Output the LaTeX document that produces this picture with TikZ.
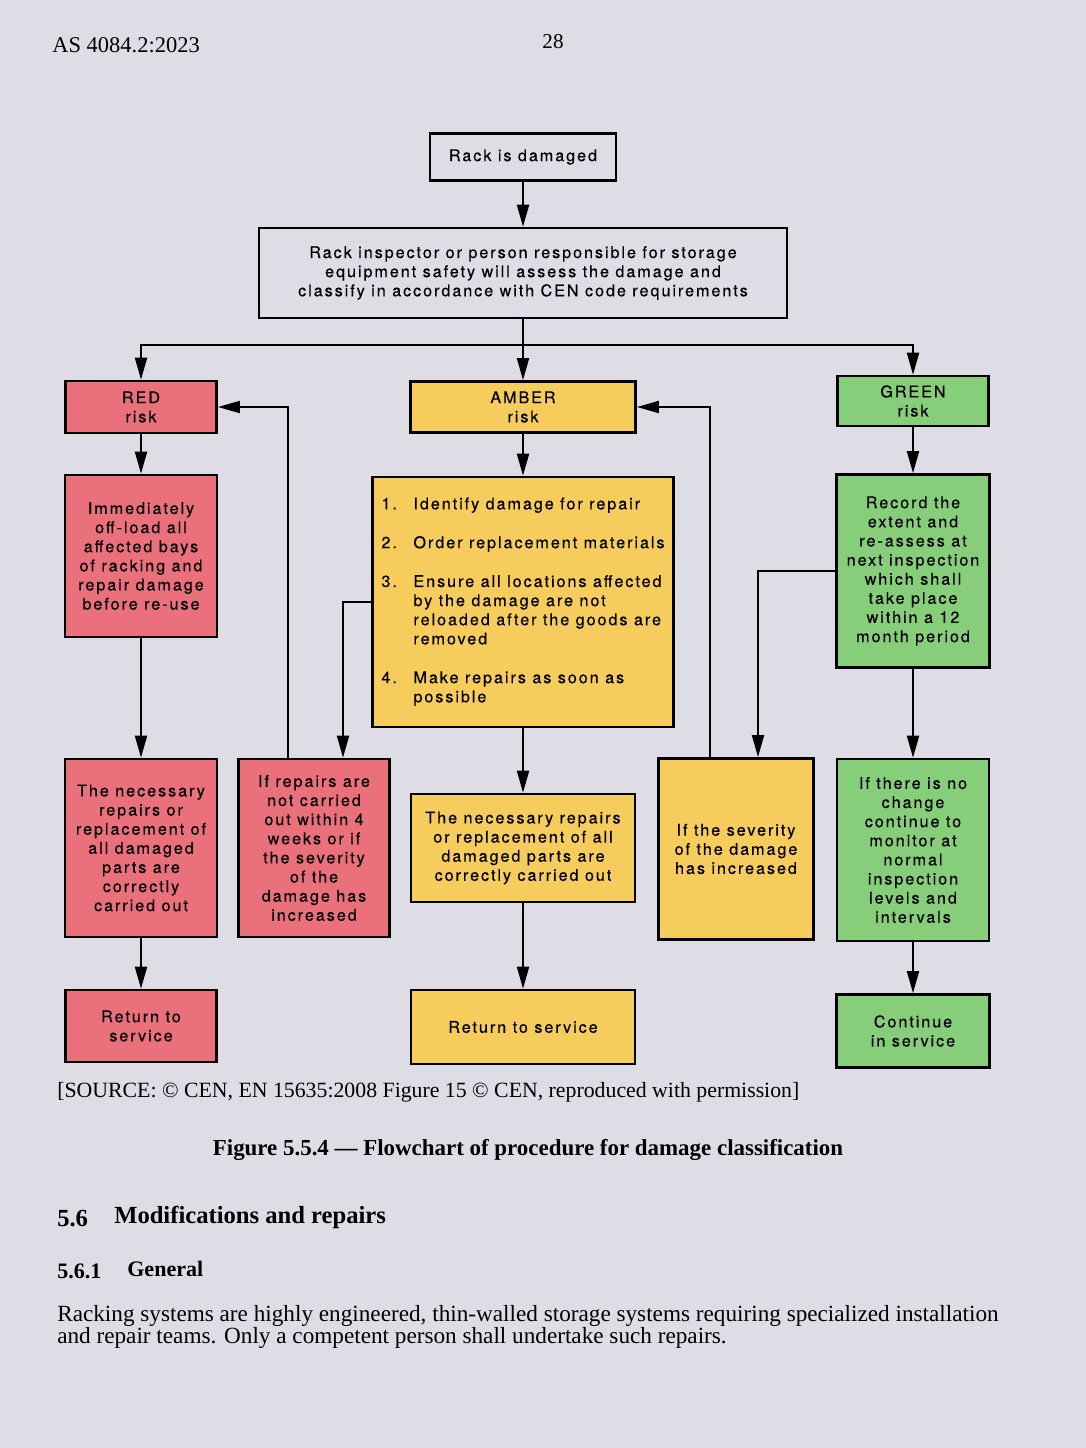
\documentclass[tikz,border=0pt]{standalone}
\usepackage{fontspec}
\setmainfont{Liberation Serif}
\newfontfamily\chartfont[LetterSpace=12,FakeBold=0.3]{TeX Gyre Heros}
\usetikzlibrary{calc,arrows.meta}
\definecolor{pagebg}{RGB}{222,221,229}
\definecolor{riskred}{RGB}{234,112,124}
\definecolor{riskamber}{RGB}{246,204,92}
\definecolor{riskgreen}{RGB}{134,206,122}
\tikzset{
  box/.style={draw, line width=1.8pt, align=center, inner sep=2pt,
    font=\chartfont\fontsize{11.5}{13.6}\selectfont},
  plainbox/.style={box, fill=pagebg},
  redbox/.style={box, fill=riskred},
  amberbox/.style={box, fill=riskamber},
  greenbox/.style={box, fill=riskgreen},
  flow/.style={line width=1.3pt, -{Triangle[length=5.5mm,width=3mm]}},
  link/.style={line width=1.3pt},
  pagetext/.style={font=\fontsize{15}{18}\selectfont, inner sep=0pt},
}

\begin{document}
\begin{tikzpicture}[x=0.025cm,y=-0.025cm]
	\fill[pagebg] (0,0) rectangle (1086,1448);
	\useasboundingbox (0,0) rectangle (1086,1448);
	% page head
	\node[pagetext, anchor=base west, font=\fontsize{16}{18}\selectfont] (std) at (52,52) {AS 4084.2:2023};
	\node[pagetext] (pageno) at (553,42) {28};
	% top of the chart
	\node[plainbox, minimum width=4.65cm, minimum height=1.18cm] (damaged) at (523,157) {Rack is damaged};
	\node[plainbox, minimum width=13.2cm, minimum height=2.25cm] (inspect) at (523,273)
		{Rack inspector or person responsible for storage\\equipment safety will assess the damage and\\classify in accordance with CEN code requirements};
	% risk classes
	\node[redbox, minimum width=3.78cm, minimum height=1.3cm] (red) at (141,407) {RED\\risk};
	\node[amberbox, minimum width=5.63cm, minimum height=1.28cm] (amber) at (523,407) {AMBER\\risk};
	\node[greenbox, minimum width=3.78cm, minimum height=1.25cm] (green) at (913,401) {GREEN\\risk};
	% actions
	\node[redbox, minimum width=3.8cm, minimum height=4.05cm] (offload) at (141,556)
		{Immediately\\off-load all\\affected bays\\of racking and\\repair damage\\before re-use};
	\node[amberbox, minimum width=7.53cm, minimum height=6.25cm] (steps) at (523,602)
		{\begin{tabular}{@{}p{0.8cm}@{}l@{}}
		1. & Identify damage for repair\\[14pt]
		2. & Order replacement materials\\[14pt]
		3. & Ensure all locations affected\\
		   & by the damage are not\\
		   & reloaded after the goods are\\
		   & removed\\[14pt]
		4. & Make repairs as soon as\\
		   & possible
		\end{tabular}};
	\node[greenbox, minimum width=3.83cm, minimum height=4.83cm] (record) at (913,571)
		{Record the\\extent and\\re-assess at\\next inspection\\which shall\\take place\\within a 12\\month period};
	% outcomes
	\node[redbox, minimum width=3.8cm, minimum height=4.45cm] (rednec) at (141,848)
		{The necessary\\repairs or\\replacement of\\all damaged\\parts are\\correctly\\carried out};
	\node[redbox, minimum width=3.78cm, minimum height=4.45cm] (ifrep) at (314,848)
		{If repairs are\\not carried\\out within 4\\weeks or if\\the severity\\of the\\damage has\\increased};
	\node[amberbox, minimum width=5.6cm, minimum height=2.7cm] (ambnec) at (523,848)
		{The necessary repairs\\or replacement of all\\damaged parts are\\correctly carried out};
	\node[amberbox, minimum width=3.88cm, minimum height=4.53cm] (severe) at (736,849)
		{If the severity\\of the damage\\has increased};
	\node[greenbox, minimum width=3.8cm, minimum height=4.55cm] (nochange) at (913,850)
		{If there is no\\change\\continue to\\monitor at\\normal\\inspection\\levels and\\intervals};
	% end states
	\node[redbox, minimum width=3.78cm, minimum height=1.8cm] (redret) at (141,1026) {Return to\\service};
	\node[amberbox, minimum width=5.6cm, minimum height=1.85cm] (ambret) at (523,1027) {Return to service};
	\node[greenbox, minimum width=3.83cm, minimum height=1.83cm] (goon) at (913,1031) {Continue\\in service};
	% connectors
	\coordinate (split) at (523,345);
	\draw[flow] (damaged) -- (inspect);
	\draw[flow] (inspect) -- (amber);
	\draw[flow] (split) -| (red.north);
	\draw[flow] (split) -| (green.north);
	\draw[flow] (red) -- (offload);
	\draw[flow] (offload) -- (rednec);
	\draw[flow] (rednec) -- (redret);
	\draw[flow] (amber) -- (steps);
	\draw[flow] (steps) -- (ambnec);
	\draw[flow] (ambnec) -- (ambret);
	\draw[flow] (green) -- (record);
	\draw[flow] (record) -- (nochange);
	\draw[flow] (nochange) -- (goon);
	\draw[flow] ($(ifrep.north)+(-26,0)$) |- (red.east);
	\draw[flow] (steps.west) -| ($(ifrep.north)+(29,0)$);
	\draw[flow] ($(severe.north)+(-26,0)$) |- (amber.east);
	\draw[flow] (record.west) -| ($(severe.north)+(22,0)$);
	% caption and text below
	\node[pagetext, anchor=west, font=\fontsize{15.5}{18}\selectfont] (source) at (57,1092)
		{[SOURCE: \textcopyright{} CEN, EN 15635:2008 Figure 15 \textcopyright{} CEN, reproduced with permission]};
	\node[pagetext, font=\bfseries\fontsize{16.3}{18}\selectfont] (caption) at (528,1150)
		{Figure 5.5.4 --- Flowchart of procedure for damage classification};
	\node[pagetext, anchor=west, font=\bfseries\fontsize{17.5}{18}\selectfont] (secno) at (57,1219) {5.6};
	\node[pagetext, anchor=west, font=\bfseries\fontsize{17.5}{18}\selectfont] (sectitle) at (114,1217) {Modifications and repairs};
	\node[pagetext, anchor=west, font=\bfseries\fontsize{15.7}{18}\selectfont] (subno) at (57,1271) {5.6.1};
	\node[pagetext, anchor=west, font=\bfseries\fontsize{15.7}{18}\selectfont] (subtitle) at (127,1269) {General};
	\node[pagetext, anchor=north west, align=left, font=\fontsize{16.5}{15.6}\selectfont] (body) at (57,1305)
		{Racking systems are highly engineered, thin-walled storage systems requiring specialized installation\\
		and repair teams. Only a competent person shall undertake such repairs.};
\end{tikzpicture}
\end{document}
